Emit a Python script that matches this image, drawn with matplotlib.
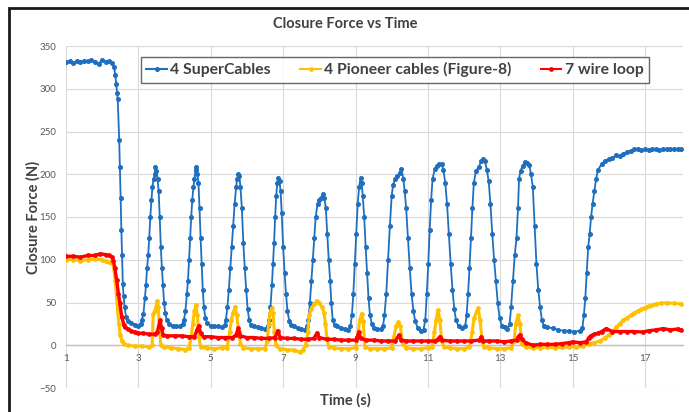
import matplotlib
matplotlib.use("Agg")
import matplotlib.pyplot as plt
from matplotlib.patches import Rectangle

# ---------------- data ----------------
super_t = [1.0, 1.1, 1.2, 1.3, 1.4, 1.5, 1.6, 1.7, 1.8, 1.9, 2.0, 2.1, 2.2, 2.28, 2.33, 2.36, 2.39, 2.41, 2.43,
           2.47, 2.49, 2.51, 2.53, 2.55, 2.57, 2.59, 2.62, 2.66, 2.72, 2.8, 2.9, 3.0, 3.06, 3.1, 3.14, 3.18, 3.21,
           3.24, 3.27, 3.3, 3.33, 3.36, 3.39, 3.42, 3.45, 3.47, 3.5, 3.53, 3.56, 3.59, 3.62, 3.65, 3.68, 3.71,
           3.74, 3.78, 3.85, 3.95, 4.05, 4.15, 4.22, 4.26, 4.3, 4.34, 4.37, 4.4, 4.43, 4.46, 4.49, 4.52, 4.55,
           4.58, 4.6, 4.63, 4.66, 4.69, 4.72, 4.75, 4.78, 4.81, 4.85, 4.9, 5.0, 5.1, 5.2, 5.3, 5.38, 5.42, 5.46,
           5.5, 5.54, 5.58, 5.62, 5.66, 5.7, 5.73, 5.76, 5.79, 5.82, 5.86, 5.9, 5.94, 5.98, 6.02, 6.06, 6.1, 6.2,
           6.3, 6.4, 6.5, 6.57, 6.61, 6.65, 6.69, 6.72, 6.75, 6.78, 6.81, 6.84, 6.87, 6.9, 6.93, 6.96, 7.0, 7.04,
           7.08, 7.12, 7.17, 7.22, 7.3, 7.4, 7.5, 7.6, 7.66, 7.7, 7.74, 7.78, 7.82, 7.86, 7.9, 7.95, 8.0, 8.05,
           8.1, 8.14, 8.18, 8.22, 8.26, 8.3, 8.33, 8.37, 8.42, 8.5, 8.6, 8.7, 8.8, 8.86, 8.9, 8.94, 8.98, 9.02,
           9.06, 9.1, 9.14, 9.17, 9.2, 9.24, 9.28, 9.32, 9.36, 9.4, 9.45, 9.5, 9.6, 9.7, 9.76, 9.8, 9.85, 9.9,
           9.95, 10.0, 10.04, 10.1, 10.16, 10.22, 10.27, 10.32, 10.36, 10.4, 10.45, 10.5, 10.55, 10.6, 10.65,
           10.72, 10.8, 10.88, 10.93, 10.97, 11.01, 11.05, 11.09, 11.13, 11.19, 11.25, 11.32, 11.38, 11.43,
           11.48, 11.53, 11.58, 11.63, 11.68, 11.73, 11.78, 11.85, 11.95, 12.03, 12.07, 12.11, 12.15, 12.19,
           12.23, 12.27, 12.33, 12.4, 12.47, 12.53, 12.58, 12.63, 12.68, 12.73, 12.78, 12.83, 12.88, 12.93,
           12.98, 13.04, 13.12, 13.2, 13.26, 13.3, 13.35, 13.4, 13.45, 13.49, 13.52, 13.56, 13.62, 13.68, 13.75,
           13.8, 13.85, 13.9, 13.95, 14.0, 14.05, 14.1, 14.15, 14.2, 14.3, 14.45, 14.6, 14.75, 14.9, 15.05, 15.2,
           15.27, 15.31, 15.35, 15.39, 15.43, 15.47, 15.51, 15.55, 15.6, 15.65, 15.7, 15.8, 15.9, 16.0, 16.1,
           16.2, 16.3, 16.4, 16.5, 16.6, 16.7, 16.8, 16.9, 17.0, 17.1, 17.2, 17.3, 17.4, 17.5, 17.6, 17.7, 17.8,
           17.9, 18.0]
super_f = [331, 332, 330, 332, 331, 333, 332, 334, 331, 329, 334, 331, 332, 330, 325, 316, 305, 295, 288,
           240, 208, 172, 135, 105, 72, 58, 45, 33, 28, 26, 24, 23, 25, 30, 37, 55, 70,
           90, 105, 125, 150, 170, 185, 195, 200, 208, 204, 195, 180, 150, 115, 90, 70, 50,
           38, 30, 25, 23, 22, 22, 25, 30, 40, 60, 75, 100, 125, 150, 170, 185, 195,
           205, 208, 200, 190, 160, 125, 95, 65, 45, 32, 26, 23, 22, 22, 21, 24, 30, 45,
           65, 90, 115, 140, 165, 185, 195, 200, 198, 185, 160, 120, 90, 65, 42, 30, 24, 22,
           21, 20, 19, 22, 30, 45, 70, 95, 120, 150, 175, 190, 196, 192, 180, 155, 115, 85,
           60, 40, 28, 24, 22, 20, 19, 18, 22, 30, 50, 75, 100, 125, 150, 165, 170, 172,
           177, 172, 160, 130, 100, 75, 50, 30, 24, 22, 20, 19, 18, 22, 35, 60, 95, 130,
           165, 185, 196, 190, 175, 150, 115, 85, 55, 35, 25, 20, 19, 19, 22, 35, 60, 100,
           140, 175, 188, 195, 198, 202, 206, 195, 180, 160, 125, 90, 60, 40, 28,
           20, 17, 18, 30, 60, 95, 135, 170, 195, 206, 210, 212, 212, 205,
           190, 165, 130, 95, 65, 42, 29, 22, 20, 22, 35, 60, 90, 125,
           160, 190, 204, 208, 215, 218, 215, 205, 192, 165, 130, 100, 75, 50,
           32, 23, 21, 19, 25, 45, 75, 105, 126, 160, 195, 204, 210, 214, 213,
           211, 200, 185, 140, 95, 65, 45, 30, 23, 21, 20, 18, 17, 17, 16, 17,
           20, 35, 55, 85, 115, 130, 150, 165, 180, 195, 205, 212, 216, 218, 219,
           222, 221, 224, 226, 227, 229, 230, 228, 229, 228, 230, 229, 228, 230, 229, 229, 230,
           229, 229]

pioneer_t = [1.0, 1.2, 1.4, 1.6, 1.8, 2.0, 2.1, 2.2, 2.28, 2.32, 2.36, 2.4, 2.43, 2.46, 2.5, 2.55, 2.6, 2.7,
             2.9, 3.1, 3.3, 3.38, 3.41, 3.45, 3.49, 3.52, 3.55, 3.58, 3.62, 3.7, 3.9, 4.1, 4.3, 4.4, 4.46,
             4.5, 4.55, 4.59, 4.63, 4.67, 4.72, 4.9, 5.1, 5.3, 5.45, 5.52, 5.57, 5.62, 5.67, 5.72, 5.77,
             5.82, 5.9, 6.1, 6.3, 6.5, 6.56, 6.6, 6.64, 6.68, 6.72, 6.76, 6.8, 6.9, 7.1, 7.3, 7.46, 7.55,
             7.62, 7.68, 7.72, 7.78, 7.85, 7.93, 8.0, 8.07, 8.13, 8.17, 8.21, 8.26, 8.4, 8.6, 8.8, 9.0,
             9.06, 9.12, 9.17, 9.21, 9.26, 9.4, 9.6, 9.8, 10.0, 10.06, 10.12, 10.18, 10.24, 10.3, 10.4,
             10.6, 10.8, 11.0, 11.12, 11.18, 11.23, 11.28, 11.33, 11.38, 11.45, 11.6, 11.8, 12.0, 12.15,
             12.22, 12.28, 12.35, 12.39, 12.44, 12.5, 12.56, 12.7, 12.9, 13.1, 13.3, 13.38, 13.43, 13.49,
             13.54, 13.6, 13.7, 13.9, 14.1, 14.3, 14.5, 14.7, 14.9, 15.1, 15.3, 15.45, 15.6, 15.75, 15.9,
             16.0, 16.1, 16.2, 16.3, 16.4, 16.5, 16.6, 16.7, 16.8, 16.9, 17.0, 17.1, 17.2, 17.3, 17.45,
             17.6, 17.8, 18.0]
pioneer_f = [100, 100, 99, 100, 101, 100, 98, 97, 96, 90, 75, 55, 40, 25, 12, 5, 2, 0,
             -1, -1, -2, 0, 37, 40, 45, 52, 45, 20, 0, -2, -3, -4, -5, -3, 10,
             25, 40, 47, 35, 10, -2, -3, -4, -3, -3, 15, 30, 38, 45, 35, 15,
             2, -3, -4, -4, -4, 5, 25, 38, 43, 38, 15, 0, -4, -5, -6, -8, -5,
             0, 15, 35, 42, 48, 52, 50, 45, 38, 25, 8, -2, -3, -4, -4, -3,
             10, 30, 37, 28, -2, -4, -4, -4, -3, 10, 22, 27, 22, 2, -3,
             -4, -4, -3, -2, 15, 30, 41, 30, 5, -2, -3, -4, -4, -2,
             15, 32, 40, 43, 30, 5, -2, -3, -4, -4, -3, 5, 25, 35,
             25, 2, -2, -3, -3, -2, -3, -2, -2, -2, -1, 2, 3, 5, 9,
             12, 16, 21, 25, 29, 32, 35, 38, 40, 42, 44, 46, 47, 48.5, 49,
             49.5, 49, 48.5]

wire_t = [1.0, 1.2, 1.4, 1.6, 1.8, 1.95, 2.1, 2.2, 2.28, 2.31, 2.35, 2.4, 2.45, 2.49, 2.54, 2.6, 2.63, 2.7,
          2.8, 2.9, 3.0, 3.13, 3.3, 3.45, 3.52, 3.56, 3.6, 3.64, 3.68, 3.8, 4.0, 4.2, 4.4, 4.55, 4.62,
          4.67, 4.72, 4.8, 5.0, 5.2, 5.4, 5.6, 5.7, 5.76, 5.82, 6.0, 6.2, 6.4, 6.6, 6.78, 6.85, 6.92,
          7.1, 7.3, 7.5, 7.7, 7.85, 7.93, 8.0, 8.2, 8.4, 8.6, 8.8, 9.0, 9.05, 9.09, 9.14, 9.3, 9.5, 9.7,
          9.9, 10.1, 10.2, 10.26, 10.4, 10.6, 10.8, 11.0, 11.2, 11.28, 11.33, 11.38, 11.6, 11.8, 12.0,
          12.2, 12.42, 12.48, 12.53, 12.7, 12.9, 13.1, 13.3, 13.45, 13.5, 13.54, 13.6, 13.7, 13.9, 14.1,
          14.3, 14.5, 14.7, 14.9, 15.0, 15.2, 15.38, 15.45, 15.5, 15.6, 15.7, 15.8, 15.93, 16.1, 16.3,
          16.5, 16.7, 16.94, 17.1, 17.3, 17.5, 17.7, 17.9, 18.0]
wire_f = [104, 104, 103, 105, 105, 107, 106, 105, 103, 99, 90, 76, 60, 49, 33, 24, 21, 19,
          17, 15, 14, 14, 13, 13, 15, 22, 29, 20, 12, 11, 11, 11, 10, 10, 18,
          23, 14, 10, 10, 9, 9, 9, 12, 20, 11, 9, 9, 8, 8, 9, 17, 9,
          8, 8, 7, 7, 8, 14, 9, 7, 7, 6, 6, 6, 10, 15.5, 8, 6, 6, 5,
          5, 5, 11.7, 6, 5, 5, 5, 5, 5, 7, 10, 6, 5, 5, 5,
          5, 6, 10, 5, 5, 5, 4, 5, 6, 10, 12, 7, 3, 0, 1,
          1, 1, 2, 3, 4, 3, 4, 9, 11, 13, 14, 16, 19.5, 16, 16,
          16, 16, 15.5, 17, 18, 19.5, 18, 19, 18]

series_labels = ["4 SuperCables", "4 Pioneer cables (Figure-8)", "7 wire loop"]
x_ticks = [1, 3, 5, 7, 9, 11, 13, 15, 17]
y_ticks = [-50, 0, 50, 100, 150, 200, 250, 300, 350]

# ---------------- drawing ----------------
plt.rcParams['font.family'] = ['Lato', 'DejaVu Sans']

fig = plt.figure(figsize=(6.89, 4.12), dpi=100)
ax = fig.add_axes([66 / 689, 1 - 388 / 412, (683 - 66) / 689, (388 - 46) / 412])

blue, yellow, red = "#1F6FC0", "#FFC000", "#FF0000"

ax.plot(super_t, super_f, color=blue, lw=1.3, marker='o', ms=2.6, label=series_labels[0], zorder=3)
ax.plot(pioneer_t, pioneer_f, color=yellow, lw=2.2, marker='o', ms=2.4, label=series_labels[1], zorder=4)
ax.plot(wire_t, wire_f, color=red, lw=2.4, marker='o', ms=2.4, label=series_labels[2], zorder=5)

ax.set_xlim(1, 18.05)
ax.set_ylim(-50, 350)
ax.set_xticks(x_ticks)
ax.set_yticks(y_ticks)
ax.grid(True, color="#D9D9D9", lw=0.8)
ax.set_axisbelow(True)

for s in ['top', 'right', 'left']:
    ax.spines[s].set_visible(False)
ax.spines['bottom'].set_position(('data', 0))
ax.spines['bottom'].set_color("#BFBFBF")
ax.spines['bottom'].set_linewidth(1.0)
ax.spines['bottom'].set_zorder(1)

ax.tick_params(axis='both', length=0, labelsize=7, labelcolor="#595959")
ax.tick_params(axis='x', pad=6)
ax.tick_params(axis='y', pad=7)

fig.text(345 / 689, 1 - 24 / 412, "Closure Force vs Time", ha='center', va='center',
         fontsize=10.5, color="#404040", fontweight='bold')
fig.text(33 / 689, 1 - 217 / 412, "Closure Force (N)", ha='center', va='center', rotation=90,
         fontsize=10.5, color="#404040", fontweight='bold')
fig.text(345 / 689, 1 - 400 / 412, "Time (s)", ha='center', va='center',
         fontsize=10.5, color="#404040", fontweight='bold')

leg = ax.legend(loc='center', bbox_to_anchor=(0.533, 0.930), ncol=3, fontsize=11.3,
                frameon=True, fancybox=False, edgecolor="#404040", handlelength=1.3,
                handletextpad=0.2, columnspacing=1.9, borderpad=0.35, markerscale=1.0)
leg.get_frame().set_linewidth(1.0)
for t in leg.get_texts():
    t.set_color("#404040")
    t.set_fontweight('bold')
for h in leg.legend_handles:
    h.set_linewidth(1.5)

fig.patches.append(Rectangle((9 / 689, -0.05), 1.0, 1 - 8 / 412 + 0.05, transform=fig.transFigure,
                             fill=False, edgecolor="#1a1a1a", lw=2.0))

fig.savefig("out.png", dpi=100)
